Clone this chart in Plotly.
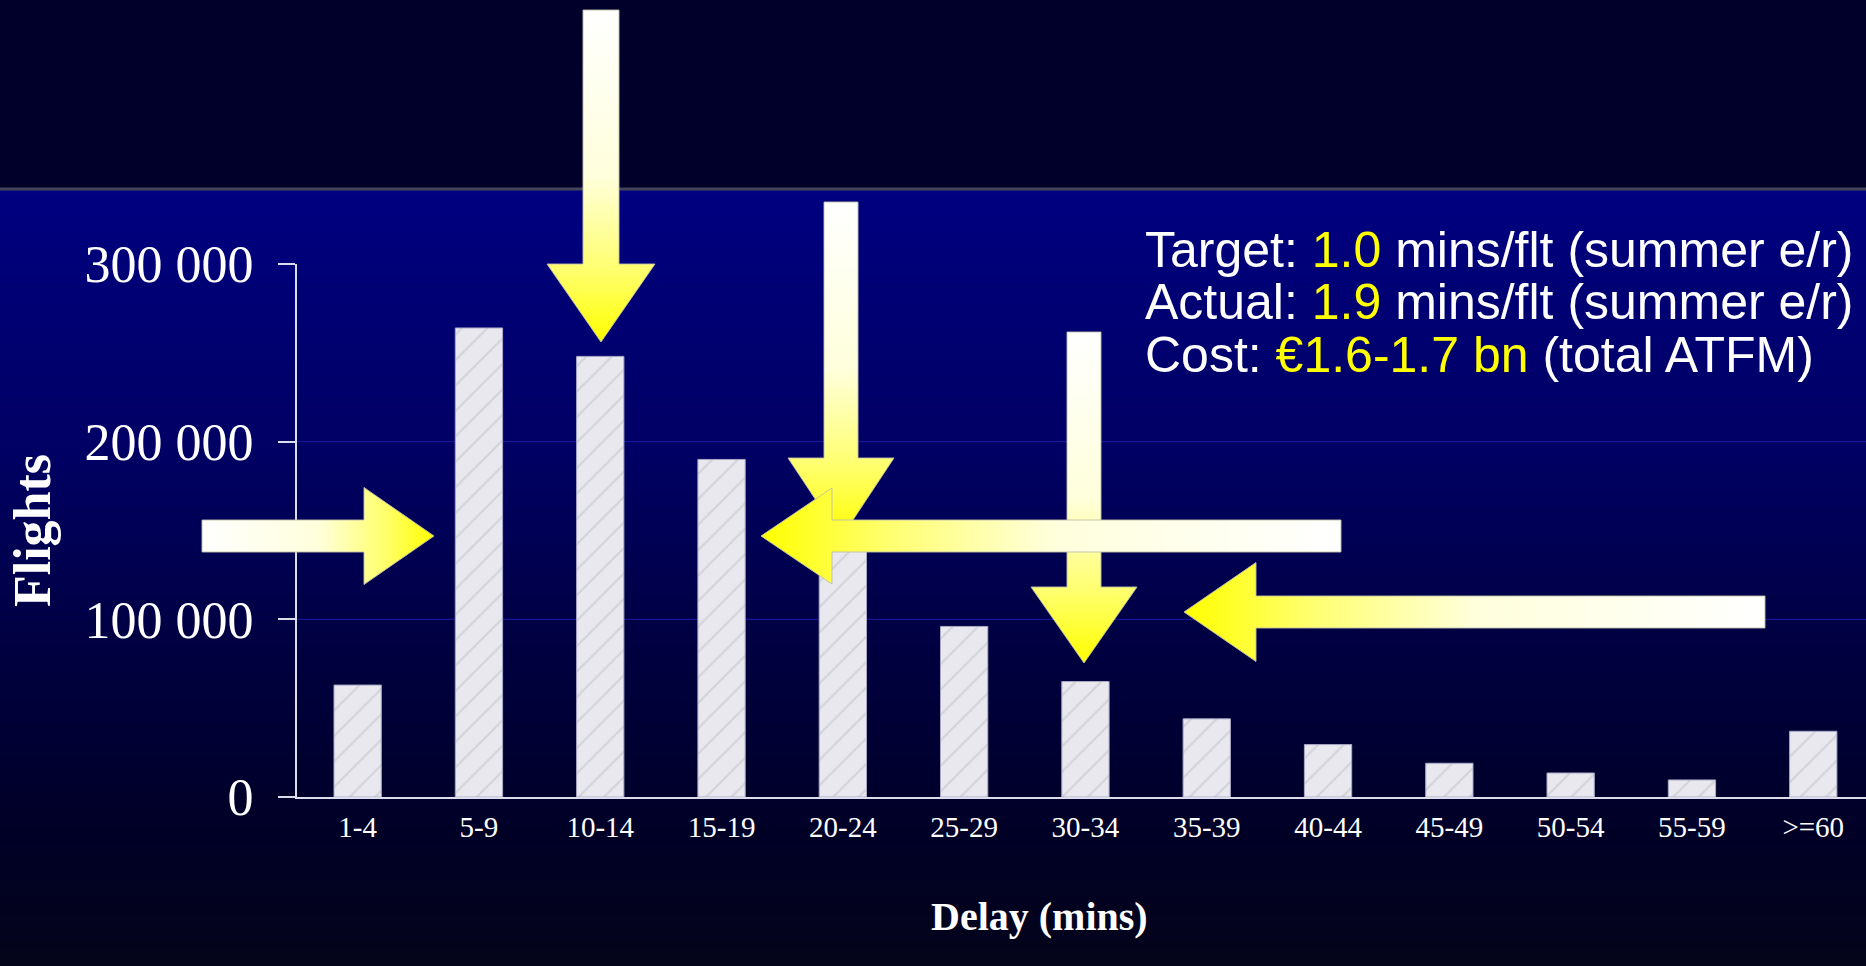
import plotly.graph_objects as go

# ---------------- data ----------------
categories = ["1-4", "5-9", "10-14", "15-19", "20-24", "25-29", "30-34",
              "35-39", "40-44", "45-49", "50-54", "55-59", ">=60"]
flights = [63000, 264000, 248000, 190000, 145000, 96000, 65000,
           44000, 29500, 19000, 13500, 9600, 37000]
y_tick_values = [0, 100000, 200000, 300000]
y_tick_labels = ["0", "100 000", "200 000", "300 000"]
x_title = "Delay (mins)"
y_title = "Flights"
note_lines = [
    ("Target: ", "1.0", " mins/flt (summer e/r)"),
    ("Actual: ", "1.9", " mins/flt (summer e/r)"),
    ("Cost: ", "€1.6-1.7 bn", " (total ATFM)"),
]

# ---------------- page geometry (pixels) ----------------
W, H = 1866, 966
PLOT_LEFT, PLOT_RIGHT = 297, 1866
PLOT_TOP, PLOT_BOTTOM = 264, 797
BAND_Y = 189

def px(x):
    return x / W

def py(y):
    return 1 - y / H

fig = go.Figure()

# bars
fig.add_trace(go.Bar(
    x=categories, y=flights,
    marker=dict(color="#e8e8ee",
                line=dict(color="#a8a8c4", width=1),
                pattern=dict(shape="/", fillmode="replace", bgcolor="#e8e8ee",
                             fgcolor="#c4c4cc", fgopacity=0.6,
                             size=18, solidity=0.12)),
    hoverinfo="skip", showlegend=False, xaxis="x", yaxis="y",
))

# ---------------- decorative arrows (pixel canvas) ----------------
# (tail_x, tail_y, tip_x, tip_y, shaft_width, head_length, head_width)
arrows_vertical = [
    (601, 10, 601, 342, 36, 78, 108),
    (841, 202, 841, 538, 34, 80, 106),
    (1084, 332, 1084, 663, 34, 76, 106),
]
arrows_horizontal = [
    (202, 536, 434, 536, 32, 70, 97),
    (1341, 536, 761, 536, 32, 71, 96),
    (1765, 612, 1184, 612, 32, 72, 99),
]
grad_scale = [[0, "#ffffff"], [0.5, "#ffffdc"], [0.78, "#ffff70"], [1, "#ffff00"]]


def arrow_poly(tx, ty, hx, hy, w, hl, hw):
    dx, dy = hx - tx, hy - ty
    L = (dx * dx + dy * dy) ** 0.5
    ux, uy = dx / L, dy / L
    nx, ny = -uy, ux
    bx, by = hx - ux * hl, hy - uy * hl
    pts = [
        (tx + nx * w / 2, ty + ny * w / 2),
        (bx + nx * w / 2, by + ny * w / 2),
        (bx + nx * hw / 2, by + ny * hw / 2),
        (hx, hy),
        (bx - nx * hw / 2, by - ny * hw / 2),
        (bx - nx * w / 2, by - ny * w / 2),
        (tx - nx * w / 2, ty - ny * w / 2),
        (tx + nx * w / 2, ty + ny * w / 2),
    ]
    return [p[0] for p in pts], [p[1] for p in pts]


for (tx, ty, hx, hy, w, hl, hw) in arrows_vertical:
    xs, ys = arrow_poly(tx, ty, hx, hy, w, hl, hw)
    fig.add_trace(go.Scatter(
        x=xs, y=ys, xaxis="x2", yaxis="y2", mode="lines", fill="toself",
        line=dict(color="rgba(190,190,170,0.9)", width=1),
        fillgradient=dict(type="vertical", colorscale=grad_scale, start=ty, stop=hy),
        hoverinfo="skip", showlegend=False,
    ))
for (tx, ty, hx, hy, w, hl, hw) in arrows_horizontal:
    xs, ys = arrow_poly(tx, ty, hx, hy, w, hl, hw)
    fig.add_trace(go.Scatter(
        x=xs, y=ys, xaxis="x2", yaxis="y2", mode="lines", fill="toself",
        line=dict(color="rgba(190,190,170,0.9)", width=1),
        fillgradient=dict(type="horizontal", colorscale=grad_scale, start=tx, stop=hx),
        hoverinfo="skip", showlegend=False,
    ))

# ---------------- background ----------------
shapes = []
stops = [(BAND_Y, 128), (450, 100), (640, 66), (820, 40), (966, 26)]


def blue_at(y):
    for (y0, c0), (y1, c1) in zip(stops[:-1], stops[1:]):
        if y0 <= y <= y1:
            return c0 + (c1 - c0) * (y - y0) / (y1 - y0)
    return stops[-1][1]


n = 90
step = (H - BAND_Y) / n
for i in range(n):
    y0 = BAND_Y + i * step
    y1 = y0 + step + 1
    b = blue_at(y0 + step / 2)
    rg = 4 * max(0, (y0 - 820) / 146)
    shapes.append(dict(type="rect", xref="paper", yref="paper", layer="below",
                       x0=0, x1=1, y0=py(min(y1, H)), y1=py(y0),
                       fillcolor=f"rgb({rg:.0f},{rg:.0f},{b:.0f})", line=dict(width=0)))
# separator line
shapes.append(dict(type="line", xref="paper", yref="paper", layer="below",
                   x0=0, x1=1, y0=py(BAND_Y), y1=py(BAND_Y),
                   line=dict(color="#45455a", width=3)))
# faint gridlines
for v in (100000, 200000):
    shapes.append(dict(type="line", xref="x domain", yref="y", layer="below",
                       x0=0, x1=1, y0=v, y1=v,
                       line=dict(color="#1c1ca8", width=1)))

serif = "Liberation Serif, Times New Roman, serif"
axis_col = "#dcdcec"

# ---------------- annotations ----------------
annotations = []
note_y = [250, 302, 355]
for (a, b, c), yy in zip(note_lines, note_y):
    annotations.append(dict(
        xref="paper", yref="paper", x=px(1143), y=py(yy),
        xanchor="left", yanchor="middle", showarrow=False,
        text=f"{a}<span style='color:#ffff00'>{b}</span>{c}",
        font=dict(family="Liberation Sans, Arial", size=50, color="white"),
    ))
# x-axis title (placed off-centre as in the original slide)
annotations.append(dict(
    xref="paper", yref="paper", x=px(1039), y=py(916),
    xanchor="center", yanchor="middle", showarrow=False,
    text=f"<b>{x_title}</b>",
    font=dict(family=serif, size=40, color="white"),
))

fig.update_layout(
    template="none",
    width=W, height=H, autosize=False,
    margin=dict(l=0, r=0, t=0, b=0, pad=0, autoexpand=False),
    paper_bgcolor="#00002a",
    plot_bgcolor="rgba(0,0,0,0)",
    showlegend=False,
    bargap=0.61,
    shapes=shapes,
    annotations=annotations,
    xaxis=dict(
        domain=[px(PLOT_LEFT), px(PLOT_RIGHT)], anchor="y", automargin=False,
        range=[-0.5, -0.5 + (PLOT_RIGHT - PLOT_LEFT) / 121.3],
        showline=True, linecolor=axis_col, linewidth=2,
        ticks="", showgrid=False, zeroline=False,
        tickfont=dict(family=serif, size=29, color="white"),
        ticklabelstandoff=3,
        fixedrange=True,
    ),
    yaxis=dict(
        domain=[py(PLOT_BOTTOM), py(PLOT_TOP)], anchor="x", automargin=False,
        range=[0, 300000],
        showline=True, linecolor=axis_col, linewidth=2,
        ticks="outside", ticklen=17, tickwidth=2, tickcolor=axis_col,
        tickvals=y_tick_values, ticktext=y_tick_labels,
        tickfont=dict(family=serif, size=52, color="white"),
        ticklabelstandoff=14,
        showgrid=False, zeroline=False,
        title=dict(text=f"<b>{y_title}</b>", standoff=17,
                   font=dict(family=serif, size=52, color="white")),
        fixedrange=True,
    ),
    xaxis2=dict(domain=[0, 1], anchor="y2", range=[0, W], visible=False,
                automargin=False, fixedrange=True, showgrid=False, zeroline=False),
    yaxis2=dict(domain=[0, 1], anchor="x2", range=[H, 0], visible=False,
                automargin=False, fixedrange=True, showgrid=False, zeroline=False),
)

fig.write_html(
    "out.html",
    config={"displayModeBar": False},
    post_script="document.body.style.margin='0';document.body.style.padding='0';"
                "document.documentElement.style.overflow='hidden';",
)
